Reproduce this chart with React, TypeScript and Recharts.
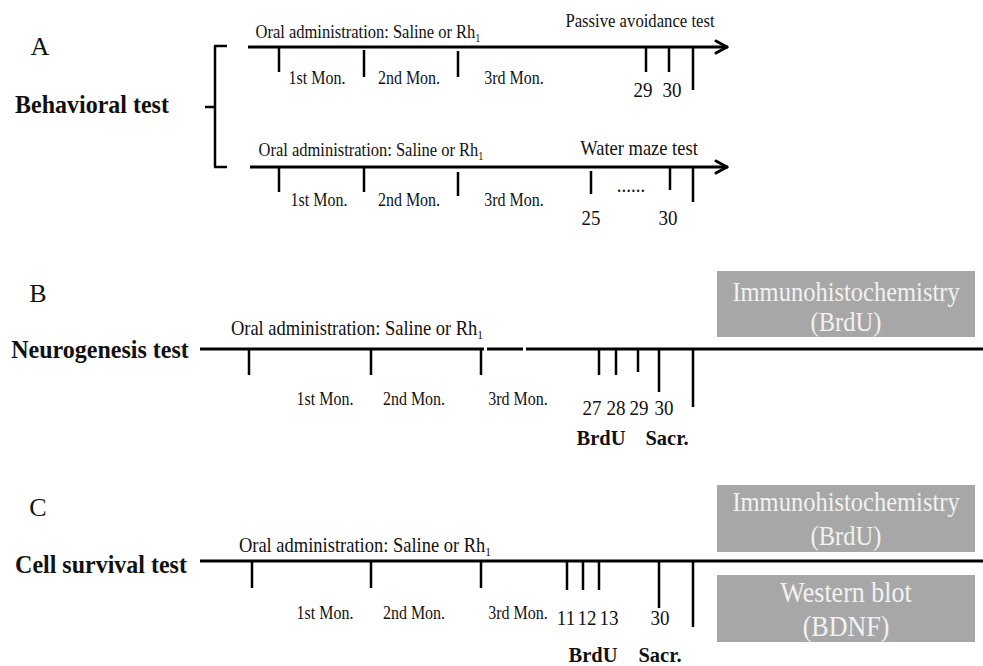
import React from "react";
import { ScatterChart, Scatter, XAxis, YAxis, ReferenceLine, ReferenceArea } from "recharts";

const W = 983;
const H = 666;
const FONT = "'Times New Roman', 'Liberation Serif', serif";

// schematic coordinates: x across the figure, y down the figure
const rails = [
  { x1: 248, x2: 727, y: 47 },
  { x1: 250, x2: 727, y: 167 },
  { x1: 200, x2: 484, y: 349 },
  { x1: 487, x2: 523, y: 349 },
  { x1: 526, x2: 983, y: 349 },
  { x1: 200, x2: 983, y: 561 },
];

const arrowTips = [
  { x: 727, y: 47 },
  { x: 727, y: 167 },
];

const ticksA1 = [
  { x: 279, y1: 47, y2: 72 },
  { x: 364, y1: 50, y2: 77 },
  { x: 458, y1: 51, y2: 77 },
  { x: 646, y1: 47, y2: 72 },
  { x: 669, y1: 47, y2: 72 },
  { x: 693, y1: 47, y2: 90 },
];
const ticksA2 = [
  { x: 279, y1: 167, y2: 192 },
  { x: 364, y1: 167, y2: 192 },
  { x: 458, y1: 172, y2: 196 },
  { x: 591, y1: 171, y2: 194 },
  { x: 670, y1: 167, y2: 190 },
  { x: 693, y1: 167, y2: 202 },
];
const ticksB = [
  { x: 249, y1: 349, y2: 375 },
  { x: 371, y1: 349, y2: 375 },
  { x: 481, y1: 349, y2: 375 },
  { x: 599, y1: 349, y2: 375 },
  { x: 616, y1: 349, y2: 375 },
  { x: 638, y1: 349, y2: 372 },
  { x: 659, y1: 349, y2: 392 },
  { x: 693, y1: 349, y2: 407 },
];
const ticksC = [
  { x: 252, y1: 561, y2: 588 },
  { x: 371, y1: 561, y2: 588 },
  { x: 481, y1: 561, y2: 588 },
  { x: 567, y1: 561, y2: 590 },
  { x: 583, y1: 561, y2: 590 },
  { x: 599, y1: 561, y2: 590 },
  { x: 659, y1: 561, y2: 608 },
  { x: 693, y1: 561, y2: 627 },
];

const bracket = [
  { x1: 215, y1: 46, x2: 215, y2: 167 },
  { x1: 214, y1: 46, x2: 227, y2: 46 },
  { x1: 214, y1: 167, x2: 227, y2: 167 },
  { x1: 205, y1: 107, x2: 215, y2: 107 },
];

const boxes = [
  { x1: 717, x2: 975, y1: 271, y2: 337 },
  { x1: 717, x2: 975, y1: 485, y2: 552 },
  { x1: 717, x2: 975, y1: 575, y2: 642 },
];

type Label = { x: number; y: number; text: string; sub?: string };

const panelLabels: Label[] = [
  { x: 40, y: 46, text: "A" },
  { x: 38, y: 293, text: "B" },
  { x: 38, y: 507, text: "C" },
];
const testNames: Label[] = [
  { x: 92, y: 104, text: "Behavioral test" },
  { x: 100, y: 349, text: "Neurogenesis test" },
  { x: 101, y: 564, text: "Cell survival test" },
];
const oralSmall: Label[] = [
  { x: 368, y: 32, text: "Oral administration: Saline or Rh", sub: "1" },
  { x: 371, y: 150, text: "Oral administration: Saline or Rh", sub: "1" },
];
const oralLarge: Label[] = [
  { x: 357, y: 328, text: "Oral administration: Saline or Rh", sub: "1" },
  { x: 365, y: 545, text: "Oral administration: Saline or Rh", sub: "1" },
];
const monthLabels: Label[] = [
  { x: 317, y: 78, text: "1st Mon." },
  { x: 409, y: 78, text: "2nd Mon." },
  { x: 514, y: 78, text: "3rd Mon." },
  { x: 319, y: 200, text: "1st Mon." },
  { x: 409, y: 200, text: "2nd Mon." },
  { x: 514, y: 200, text: "3rd Mon." },
  { x: 325, y: 399, text: "1st Mon." },
  { x: 414, y: 399, text: "2nd Mon." },
  { x: 518, y: 399, text: "3rd Mon." },
  { x: 325, y: 613, text: "1st Mon." },
  { x: 414, y: 613, text: "2nd Mon." },
  { x: 518, y: 613, text: "3rd Mon." },
];
const dayLabels: Label[] = [
  { x: 643, y: 90, text: "29" },
  { x: 672, y: 90, text: "30" },
  { x: 591, y: 218, text: "25" },
  { x: 668, y: 218, text: "30" },
  { x: 631, y: 185, text: "......" },
  { x: 592, y: 408, text: "27" },
  { x: 616, y: 408, text: "28" },
  { x: 639, y: 408, text: "29" },
  { x: 664, y: 408, text: "30" },
  { x: 566, y: 618, text: "11" },
  { x: 587, y: 618, text: "12" },
  { x: 609, y: 618, text: "13" },
  { x: 660, y: 618, text: "30" },
];
const phaseLabels: Label[] = [
  { x: 601, y: 438, text: "BrdU" },
  { x: 667, y: 438, text: "Sacr." },
  { x: 593, y: 655, text: "BrdU" },
  { x: 660, y: 655, text: "Sacr." },
];
const passiveLabel: Label[] = [{ x: 640, y: 21, text: "Passive avoidance test" }];
const waterLabel: Label[] = [{ x: 639, y: 148, text: "Water maze test" }];
const boxLabels: Label[] = [
  { x: 846, y: 292, text: "Immunohistochemistry" },
  { x: 846, y: 322, text: "(BrdU)" },
  { x: 846, y: 502, text: "Immunohistochemistry" },
  { x: 846, y: 536, text: "(BrdU)" },
];
const westernLabels: Label[] = [
  { x: 846, y: 593, text: "Western blot" },
  { x: 846, y: 627, text: "(BDNF)" },
];

// sy stretches glyphs vertically: the source lettering is tall and narrow
type TextStyle = { size: number; weight?: number | string; fill?: string; sy?: number };

const textShape = (style: TextStyle) => (props: any) => {
  const { cx, cy, payload } = props;
  const sy = style.sy ?? 1.15;
  return (
    <g transform={`translate(${cx},${cy}) scale(1,${sy})`}>
      <text
        x={0}
        y={0}
        textAnchor="middle"
        dominantBaseline="central"
        fontFamily={FONT}
        fontSize={style.size}
        fontWeight={style.weight ?? 400}
        fill={style.fill ?? "#111"}
      >
        {payload.text}
        {payload.sub && (
          <tspan fontSize={style.size * 0.62} dy={style.size * 0.3}>
            {payload.sub}
          </tspan>
        )}
      </text>
    </g>
  );
};

const TEXT_GROUPS: Array<[Label[], TextStyle]> = [
  [panelLabels, { size: 26, sy: 1.0 }],
  [testNames, { size: 24, weight: 700, sy: 1.05 }],
  [oralSmall, { size: 16.5 }],
  [oralLarge, { size: 18.5 }],
  [monthLabels, { size: 16 }],
  [dayLabels, { size: 19 }],
  [phaseLabels, { size: 20.5, weight: 700, sy: 1.05 }],
  [passiveLabel, { size: 16.7 }],
  [waterLabel, { size: 18.5 }],
  [boxLabels, { size: 24.5, fill: "#f2f2f2", sy: 1.1 }],
  [westernLabels, { size: 26, fill: "#f2f2f2", sy: 1.1 }],
];

const seg = (x1: number, y1: number, x2: number, y2: number) => [
  { x: x1, y: y1 },
  { x: x2, y: y2 },
];

export default function App() {
  const allTicks = [...ticksA1, ...ticksA2, ...ticksB, ...ticksC];
  return (
    <div style={{ position: "absolute", left: 0, top: 0, width: W, height: H, background: "#fff" }}>
      <ScatterChart width={W} height={H} margin={{ top: 0, right: 0, bottom: 0, left: 0 }}>
        <XAxis type="number" dataKey="x" domain={[0, W]} allowDataOverflow hide />
        <YAxis type="number" dataKey="y" domain={[0, H]} allowDataOverflow reversed hide />

        {boxes.map((b, i) => (
          <ReferenceArea
            key={`box-${i}`}
            x1={b.x1}
            x2={b.x2}
            y1={b.y1}
            y2={b.y2}
            fill="#a7a7a7"
            fillOpacity={1}
            stroke="none"
            ifOverflow="visible"
          />
        ))}

        {rails.map((r, i) => (
          <ReferenceLine
            key={`rail-${i}`}
            segment={seg(r.x1, r.y, r.x2, r.y)}
            stroke="#000"
            strokeWidth={3}
            ifOverflow="visible"
          />
        ))}

        {arrowTips.flatMap((t, i) => [
          <ReferenceLine
            key={`arrow-up-${i}`}
            segment={seg(t.x - 11, t.y - 6, t.x, t.y)}
            stroke="#000"
            strokeWidth={3}
            strokeLinecap="round"
            ifOverflow="visible"
          />,
          <ReferenceLine
            key={`arrow-dn-${i}`}
            segment={seg(t.x - 11, t.y + 6, t.x, t.y)}
            stroke="#000"
            strokeWidth={3}
            strokeLinecap="round"
            ifOverflow="visible"
          />,
        ])}

        {allTicks.map((t, i) => (
          <ReferenceLine
            key={`tick-${i}`}
            segment={seg(t.x, t.y1, t.x, t.y2)}
            stroke="#000"
            strokeWidth={2.5}
            ifOverflow="visible"
          />
        ))}

        {bracket.map((b, i) => (
          <ReferenceLine
            key={`brace-${i}`}
            segment={seg(b.x1, b.y1, b.x2, b.y2)}
            stroke="#000"
            strokeWidth={2.5}
            ifOverflow="visible"
          />
        ))}

        {TEXT_GROUPS.map(([data, style], i) => (
          <Scatter
            key={`text-${i}`}
            data={data}
            shape={textShape(style)}
            isAnimationActive={false}
          />
        ))}
      </ScatterChart>
    </div>
  );
}
